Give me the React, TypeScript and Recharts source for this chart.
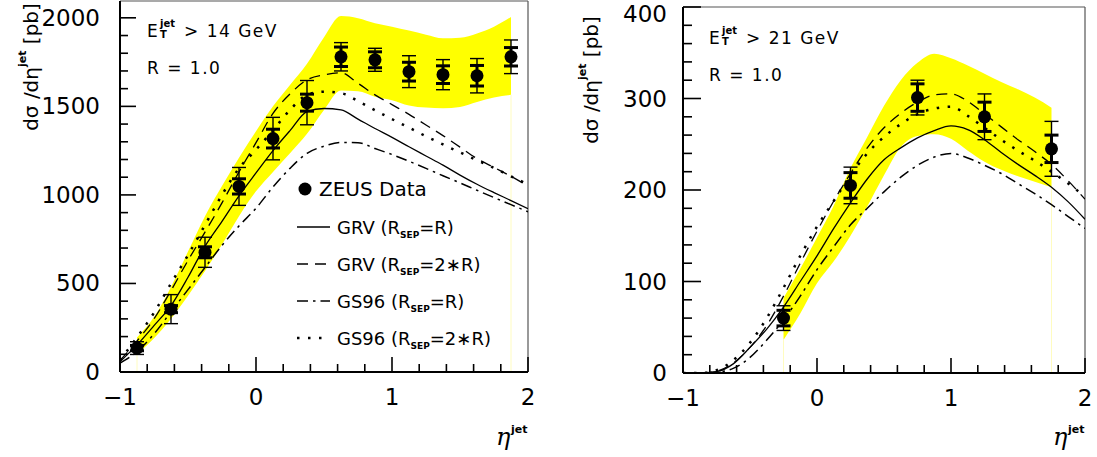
import React from 'react';
import { ComposedChart, Line, Area, Scatter, XAxis, YAxis, ErrorBar, ReferenceLine, Legend } from 'recharts';

// common eta grid for theory curves and uncertainty bands
const ETA = [-1, -0.875, -0.75, -0.625, -0.5, -0.375, -0.25, -0.125, 0, 0.125, 0.25, 0.375, 0.5, 0.625, 0.75, 0.875, 1, 1.125, 1.25, 1.375, 1.5, 1.625, 1.75, 1.875, 2];

// ---- left panel: E_T > 14 GeV ----
const L_GRV_R = [58, 153, 262, 375, 535, 710, 851, 995, 1124, 1250, 1363, 1470, 1488, 1480, 1428, 1375, 1325, 1272, 1220, 1168, 1112, 1060, 1013, 968, 922];
const L_GRV_2R = [65, 175, 300, 460, 630, 790, 955, 1130, 1295, 1460, 1570, 1650, 1678, 1690, 1630, 1565, 1510, 1455, 1395, 1335, 1270, 1205, 1155, 1105, 1050];
const L_GS_R = [50, 115, 215, 340, 465, 590, 715, 825, 925, 1045, 1150, 1235, 1275, 1296, 1295, 1262, 1228, 1190, 1150, 1108, 1068, 1026, 985, 945, 905];
const L_GS_2R = [68, 195, 335, 500, 660, 830, 1000, 1150, 1255, 1365, 1480, 1565, 1583, 1575, 1530, 1478, 1428, 1380, 1331, 1285, 1240, 1196, 1152, 1105, 1060];
const L_BAND_LO = [null, 100, 190, 300, 430, 570, 720, 880, 1020, 1130, 1235, 1345, 1480, 1590, 1585, 1555, 1535, 1505, 1493, 1490, 1497, 1525, 1550, 1565, null];
const L_BAND_HI = [null, 195, 310, 480, 680, 880, 1050, 1210, 1360, 1500, 1620, 1740, 1890, 2010, 1998, 1970, 1950, 1928, 1905, 1885, 1888, 1912, 1950, 2005, null];
const L_DATA_ETA = [-0.875, -0.625, -0.375, -0.125, 0.125, 0.375, 0.625, 0.875, 1.125, 1.375, 1.625, 1.875];
const L_DATA_VAL = [135, 355, 676, 1048, 1318, 1521, 1780, 1763, 1696, 1679, 1673, 1780];
const L_DATA_STAT = [15, 20, 31, 43, 53, 48, 55, 45, 53, 50, 58, 52];
const L_DATA_TOT = [36, 82, 85, 107, 120, 125, 80, 65, 90, 85, 97, 95];

// ---- right panel: E_T > 21 GeV ----
const R_GRV_R = [0, 0, 1.5, 10, 28, 48, 72, 100, 128, 158, 186, 212, 233, 246, 257, 265, 270, 266, 255, 241, 228, 216, 203, 187, 168];
const R_GRV_2R = [0, 0, 2, 11, 28, 52, 84, 120, 155, 188, 218, 246, 268, 284, 296, 304, 305, 297, 283, 269, 255, 242, 228, 210, 190];
const R_GS_R = [0, 0, 1, 5, 17, 36, 58, 84, 113, 138, 162, 180, 198, 214, 227, 236, 240, 235, 227, 218, 207, 196, 184, 171, 158];
const R_GS_2R = [0, 0, 3, 14, 33, 60, 93, 128, 160, 188, 216, 240, 258, 272, 283, 289, 291, 281, 268, 255, 243, 232, 220, 207, 193];
const R_BAND_LO = [null, null, null, null, null, null, 36, 65, 98, 122, 150, 182, 216, 247, 259, 261, 256, 243, 231, 222, 215, 209, 203, null, null];
const R_BAND_HI = [null, null, null, null, null, null, 82, 114, 148, 183, 224, 258, 292, 320, 339, 349, 344, 336, 327, 318, 310, 301, 290, null, null];
const R_DATA_ETA = [-0.25, 0.25, 0.75, 1.25, 1.75];
const R_DATA_VAL = [60, 205, 301, 280, 245];
const R_DATA_STAT = [8.5, 14, 15, 16, 15];
const R_DATA_TOT = [13.5, 20, 19, 25, 30];

// ---- axes ----
const X_TICKS = [-1, -0.8, -0.6, -0.4, -0.2, 0, 0.2, 0.4, 0.6, 0.8, 1, 1.2, 1.4, 1.6, 1.8, 2];
const X_MAJOR = [-1, 0, 1, 2];
const L_Y_TICKS = [0, 100, 200, 300, 400, 500, 600, 700, 800, 900, 1000, 1100, 1200, 1300, 1400, 1500, 1600, 1700, 1800, 1900, 2000];
const L_Y_MAJOR = [0, 500, 1000, 1500, 2000];
const R_Y_TICKS = [0, 20, 40, 60, 80, 100, 120, 140, 160, 180, 200, 220, 240, 260, 280, 300, 320, 340, 360, 380, 400];
const R_Y_MAJOR = [0, 100, 200, 300, 400];

const LEGEND_ITEMS = [
  { pre: 'GRV (R', sub: 'SEP', post: '=R)', dash: undefined as string | undefined, w: 1.3 },
  { pre: 'GRV (R', sub: 'SEP', post: '=2\u2217R)', dash: '11 7', w: 1.3 },
  { pre: 'GS96 (R', sub: 'SEP', post: '=R)', dash: '11 5 2.5 5', w: 1.5 },
  { pre: 'GS96 (R', sub: 'SEP', post: '=2\u2217R)', dash: '2.5 8.5', w: 2.5 },
];

const FONT = "'DejaVu Sans', sans-serif";

function buildRows(a: number[], b: number[], c: number[], d: number[], lo: (number | null)[], hi: (number | null)[]) {
  return ETA.map((eta, i) => ({
    eta,
    grvR: a[i],
    grv2R: b[i],
    gsR: c[i],
    gs2R: d[i],
    band: lo[i] == null || hi[i] == null ? null : [lo[i], hi[i]],
  }));
}

function buildPoints(eta: number[], val: number[], stat: number[], tot: number[]) {
  return eta.map((e, i) => ({ eta: e, val: val[i], stat: stat[i], tot: tot[i] }));
}

const fmt = (v: number) => (v < 0 ? '\u2212' + Math.abs(v) : String(v));

const xTick = (props: any) => {
  const { x, y, payload } = props;
  const v = Number(payload.value);
  const major = X_MAJOR.some((m) => Math.abs(m - v) < 1e-6);
  return (
    <g>
      <line x1={x} x2={x} y1={y} y2={y - (major ? 15 : 8)} stroke="#000" strokeWidth={1.6} />
      {major && (
        <text x={x} y={y + 33} textAnchor="middle" fontFamily={FONT} fontSize={23} fill="#000">
          {fmt(v)}
        </text>
      )}
    </g>
  );
};

const makeYTick = (majors: number[], majorLen: number, minorLen: number, gap: number) => (props: any) => {
  const { x, y, payload } = props;
  const v = Number(payload.value);
  const major = majors.some((m) => Math.abs(m - v) < 1e-6);
  return (
    <g>
      <line x1={x} x2={x + (major ? majorLen : minorLen)} y1={y} y2={y} stroke="#000" strokeWidth={1.6} />
      {major && (
        <text x={x - gap} y={Math.max(y + 8, 22)} textAnchor="end" fontFamily={FONT} fontSize={23} fill="#000">
          {fmt(v)}
        </text>
      )}
    </g>
  );
};

const dot = (p: any) => <circle cx={p.cx} cy={p.cy} r={6.5} fill="#000" />;

const LegendBox = () => (
  <svg width={210} height={185} style={{ overflow: 'visible' }}>
    <circle cx={15} cy={13} r={6.5} fill="#000" />
    <text x={29} y={20} fontFamily={FONT} fontSize={20} fill="#000">ZEUS Data</text>
    {LEGEND_ITEMS.map((it, i) => {
      const y = 51 + i * 37;
      return (
        <g key={i}>
          <line x1={7} x2={40} y1={y} y2={y} stroke="#000" strokeWidth={it.w} strokeDasharray={it.dash} />
          <text x={47} y={y + 7} fontFamily={FONT} fontSize={18} fill="#000">
            <tspan>{it.pre}</tspan>
            <tspan fontSize={9} fontWeight="bold" dy={4}>{it.sub}</tspan>
            <tspan dy={-4}>{it.post}</tspan>
          </text>
        </g>
      );
    })}
  </svg>
);

type PanelProps = {
  rows: any[];
  points: any[];
  width: number;
  top: number;
  right: number;
  yw: number;
  xh: number;
  yMax: number;
  yTicks: number[];
  yMajor: number[];
  majorLen: number;
  minorLen: number;
  gap: number;
  bandLo: (number | null)[];
  legend?: boolean;
};

function Panel(p: PanelProps) {
  const firstIdx = p.bandLo.findIndex((v) => v != null);
  let lastIdx = -1;
  p.bandLo.forEach((v, i) => {
    if (v != null) lastIdx = i;
  });
  const bandStart = ETA[firstIdx];
  const bandEnd = ETA[lastIdx];
  return (
    <ComposedChart width={p.width} height={457} data={p.rows} margin={{ top: p.top, right: p.right, bottom: 0, left: 0 }}>
      <XAxis
        dataKey="eta"
        type="number"
        domain={[-1, 2]}
        ticks={X_TICKS}
        interval={0}
        tickSize={0}
        tickMargin={0}
        tickLine={false}
        height={p.xh}
        axisLine={{ stroke: '#000', strokeWidth: 2 }}
        tick={xTick}
        allowDataOverflow
      />
      <YAxis
        type="number"
        domain={[0, p.yMax]}
        ticks={p.yTicks}
        interval={0}
        tickSize={0}
        tickMargin={0}
        tickLine={false}
        width={p.yw}
        axisLine={{ stroke: '#000', strokeWidth: 2 }}
        tick={makeYTick(p.yMajor, p.majorLen, p.minorLen, p.gap)}
        allowDataOverflow
      />
      <Area type="monotone" dataKey="band" fill="#ffff00" fillOpacity={1} stroke="none" isAnimationActive={false} />
      <ReferenceLine segment={[{ x: bandStart, y: 0 }, { x: bandStart, y: p.bandLo[firstIdx] as number }]} stroke="#fffcc0" strokeWidth={1} />
      <ReferenceLine segment={[{ x: bandEnd, y: 0 }, { x: bandEnd, y: p.bandLo[lastIdx] as number }]} stroke="#fffcc0" strokeWidth={1} />
      <ReferenceLine y={p.yMax} stroke="#555" strokeWidth={1.2} />
      <ReferenceLine x={2} stroke="#555" strokeWidth={1.2} />
      <Line type="monotone" dataKey="grvR" stroke="#000" strokeWidth={1.3} dot={false} isAnimationActive={false} />
      <Line type="monotone" dataKey="grv2R" stroke="#000" strokeWidth={1.3} strokeDasharray="11 7" dot={false} isAnimationActive={false} />
      <Line type="monotone" dataKey="gsR" stroke="#000" strokeWidth={1.5} strokeDasharray="11 5 2.5 5" dot={false} isAnimationActive={false} />
      <Line type="monotone" dataKey="gs2R" stroke="#000" strokeWidth={2.5} strokeDasharray="2.5 8.5" dot={false} isAnimationActive={false} />
      <Scatter data={p.points} dataKey="val" shape={dot} isAnimationActive={false}>
        <ErrorBar dataKey="tot" direction="y" width={7} stroke="#000" strokeWidth={1.4} />
        <ErrorBar dataKey="stat" direction="y" width={7} stroke="#000" strokeWidth={3} />
      </Scatter>
      {p.legend && (
        <Legend
          layout="horizontal"
          verticalAlign="middle"
          align="center"
          content={() => <LegendBox />}
          wrapperStyle={{ position: 'absolute', left: 290, top: 176, width: 210, height: 185 }}
        />
      )}
    </ComposedChart>
  );
}

const leftRows = buildRows(L_GRV_R, L_GRV_2R, L_GS_R, L_GS_2R, L_BAND_LO, L_BAND_HI);
const rightRows = buildRows(R_GRV_R, R_GRV_2R, R_GS_R, R_GS_2R, R_BAND_LO, R_BAND_HI);
const leftPoints = buildPoints(L_DATA_ETA, L_DATA_VAL, L_DATA_STAT, L_DATA_TOT);
const rightPoints = buildPoints(R_DATA_ETA, R_DATA_VAL, R_DATA_STAT, R_DATA_TOT);

const YLabel = ({ x, y }: { x: number; y: number }) => (
  <text transform={`translate(${x},${y}) rotate(-90)`} textAnchor="middle" dominantBaseline="central" fontFamily={FONT} fontSize={20} fill="#000">
    <tspan>{'d\u03c3\u00a0/d\u03b7'}</tspan>
    <tspan fontSize={11} fontWeight="bold" dy={-9}>jet</tspan>
    <tspan dy={9}>{'\u00a0[pb]'}</tspan>
  </text>
);

const EtaLabel = ({ x, y }: { x: number; y: number }) => (
  <g>
    <text x={x} y={y} fontFamily="'DejaVu Serif', serif" fontStyle="italic" fontSize={24} fill="#000">{'\u03b7'}</text>
    <text x={x + 15} y={y - 12} fontFamily={FONT} fontWeight="bold" fontSize={11} fill="#000">jet</text>
  </g>
);

const CutLabel = ({ x, y, text }: { x: number; y: number; text: string }) => (
  <g fontFamily={FONT} fill="#000">
    <text x={x} y={y} fontSize={17}>E</text>
    <text x={x + 13} y={y - 10} fontSize={10} fontWeight="bold">jet</text>
    <text x={x + 13} y={y + 1} fontSize={10} fontWeight="bold">T</text>
    <text x={x + 37} y={y} fontSize={17} letterSpacing={1.5}>{text}</text>
    <text x={x} y={y + 37} fontSize={17} letterSpacing={1.5}>R = 1.0</text>
  </g>
);

export default function App() {
  return (
    <div style={{ position: 'absolute', left: 0, top: 0, width: 1097, height: 457, background: '#fff', overflow: 'hidden' }}>
      <div style={{ position: 'absolute', left: 0, top: 0 }}>
        <Panel
          rows={leftRows}
          points={leftPoints}
          width={548}
          top={1}
          right={20}
          yw={120}
          xh={85}
          yMax={2095}
          yTicks={L_Y_TICKS}
          yMajor={L_Y_MAJOR}
          majorLen={16}
          minorLen={8}
          gap={20}
          bandLo={L_BAND_LO}
          legend
        />
      </div>
      <div style={{ position: 'absolute', left: 548, top: 0 }}>
        <Panel
          rows={rightRows}
          points={rightPoints}
          width={549}
          top={7}
          right={12}
          yw={135}
          xh={84}
          yMax={400}
          yTicks={R_Y_TICKS}
          yMajor={R_Y_MAJOR}
          majorLen={18}
          minorLen={9}
          gap={16}
          bandLo={R_BAND_LO}
        />
      </div>
      <svg width={1097} height={457} style={{ position: 'absolute', left: 0, top: 0, pointerEvents: 'none' }}>
        <YLabel x={31} y={67} />
        <YLabel x={591} y={80} />
        <EtaLabel x={496} y={445} />
        <EtaLabel x={1053} y={445} />
        <CutLabel x={147} y={37} text="> 14 GeV" />
        <CutLabel x={709} y={44} text="> 21 GeV" />
      </svg>
    </div>
  );
}
